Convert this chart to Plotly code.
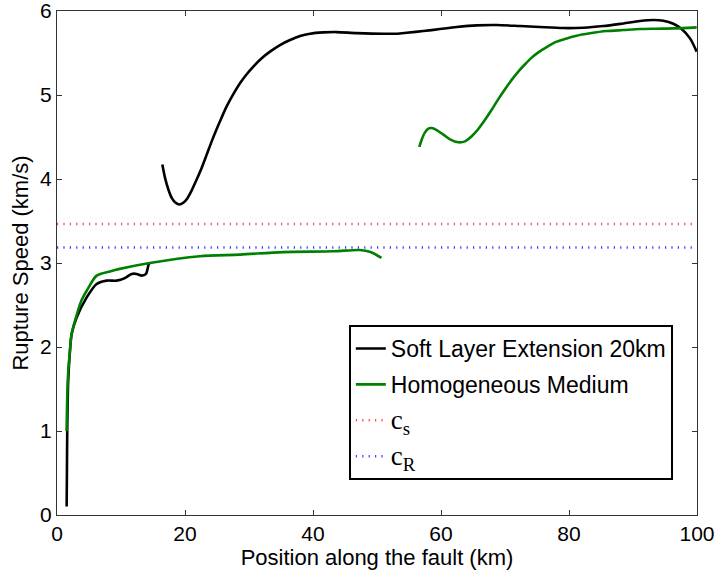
import plotly.graph_objects as go

# Soft layer extension 20 km (black), two segments
soft1_x = [1.51, 1.55, 1.6, 1.75, 2.03, 2.29, 3.07, 4.64, 6.2, 7.76, 9.32, 10.6, 11.67, 12.45, 13.23, 13.9, 14.27, 14.43]
soft1_y = [0.1, 0.5, 1.0, 1.6, 1.96, 2.155, 2.35, 2.59, 2.75, 2.79, 2.79, 2.82, 2.87, 2.87, 2.85, 2.87, 2.97, 3.0]
soft2_x = [16.46, 16.88, 17.4, 17.92, 18.54, 19.11, 19.74, 20.36, 21.04, 21.82, 22.6, 23.39, 24.17, 24.95, 25.73,
           26.51, 27.55, 28.59, 29.64, 30.68, 31.98, 33.28, 34.84, 36.41, 37.97, 39.53, 41.61, 43.7, 46.82, 50.99,
           53.59, 54.64, 57.24, 59.84, 62.45, 65.57, 68.7, 72.34, 75.47, 79.11, 82.24, 85.36, 88.49, 91.09, 93.18,
           94.74, 96.3, 97.6, 98.91, 99.95]
soft2_y = [4.172, 4.013, 3.875, 3.776, 3.717, 3.697, 3.717, 3.768, 3.863, 3.994, 4.132, 4.29, 4.448, 4.595, 4.733,
           4.864, 5.01, 5.14, 5.247, 5.338, 5.437, 5.516, 5.595, 5.654, 5.702, 5.73, 5.745, 5.749, 5.737, 5.729,
           5.733, 5.741, 5.761, 5.785, 5.809, 5.829, 5.833, 5.821, 5.809, 5.797, 5.801, 5.821, 5.852, 5.88, 5.892,
           5.884, 5.848, 5.785, 5.674, 5.516]

# Homogeneous medium (green), two segments
homo1_x = [1.5, 1.6, 1.75, 2.03, 2.29, 3.07, 3.8, 4.64, 6.2, 8.28, 9.8, 14.5, 22.3, 28.6, 35.3, 43.2, 47.3, 49.0, 50.7]
homo1_y = [1.0, 1.4, 1.7, 1.96, 2.16, 2.38, 2.55, 2.67, 2.85, 2.9, 2.93, 3.0, 3.08, 3.10, 3.13, 3.14, 3.155, 3.13, 3.06]
homo2_x = [56.61, 56.98, 57.5, 58.02, 58.54, 59.32, 60.36, 61.41, 62.71, 63.75, 64.79, 65.83, 66.88, 67.92, 68.96,
           70.0, 71.04, 72.08, 73.13, 74.17, 75.21, 76.51, 78.07, 79.64, 81.2, 83.28, 85.89, 88.49, 91.09, 93.7,
           96.3, 99.95]
homo2_y = [4.381, 4.468, 4.555, 4.599, 4.607, 4.583, 4.528, 4.472, 4.437, 4.448, 4.508, 4.595, 4.705, 4.824, 4.951,
           5.069, 5.18, 5.279, 5.366, 5.445, 5.508, 5.571, 5.635, 5.674, 5.706, 5.734, 5.761, 5.773, 5.785, 5.789,
           5.793, 5.805]

# Reference wave speeds
cs = 3.464
cR = 3.184
x_range = [0, 100]

FONT = "Liberation Sans, Arial, sans-serif"

fig = go.Figure()
black = dict(color="black", width=2.6, shape="spline", smoothing=0.8)
green = dict(color="rgb(0,128,0)", width=2.6, shape="spline", smoothing=0.8)

fig.add_trace(go.Scatter(x=soft1_x, y=soft1_y, mode="lines", line=black,
                         name="Soft Layer Extension 20km", legendgroup="a"))
fig.add_trace(go.Scatter(x=soft2_x, y=soft2_y, mode="lines", line=black,
                         showlegend=False, legendgroup="a"))
fig.add_trace(go.Scatter(x=homo1_x, y=homo1_y, mode="lines", line=green,
                         name="Homogeneous Medium", legendgroup="b"))
fig.add_trace(go.Scatter(x=homo2_x, y=homo2_y, mode="lines", line=green,
                         showlegend=False, legendgroup="b"))
fig.add_trace(go.Scatter(x=x_range, y=[cs, cs], mode="lines",
                         line=dict(color="rgb(255,70,70)", width=2.5, dash="1.2px,5.2px"),
                         name='<span style="font-family:Liberation Serif;font-size:27px">c<sub>s</sub></span>',
                         legendgroup="c"))
fig.add_trace(go.Scatter(x=x_range, y=[cR, cR], mode="lines",
                         line=dict(color="rgb(60,60,255)", width=2.5, dash="1.2px,5.2px"),
                         name='<span style="font-family:Liberation Serif;font-size:27px">c<sub>R</sub></span>',
                         legendgroup="d"))

axis_common = dict(showline=True, linecolor="#333", linewidth=1.2, mirror="ticks",
                   ticks="inside", ticklen=5, tickcolor="#333", showgrid=False, zeroline=False,
                   automargin=False, ticklabeloverflow="allow",
                   tickfont=dict(family=FONT, size=21, color="black"))

fig.update_layout(
    width=719, height=571,
    margin=dict(l=57, r=22, t=11, b=56),
    paper_bgcolor="white", plot_bgcolor="white",
    xaxis=dict(range=[0, 100], tickvals=[0, 20, 40, 60, 80, 100],
               title=dict(text="Position along the fault (km)", standoff=2,
                          font=dict(family=FONT, size=22, color="black")),
               **axis_common),
    yaxis=dict(range=[0, 6], tickvals=[0, 1, 2, 3, 4, 5, 6],
               title=dict(text="Rupture Speed (km/s)", standoff=5,
                          font=dict(family=FONT, size=22, color="black")),
               **axis_common),
    legend=dict(x=0.456, y=0.377, xanchor="left", yanchor="top",
                bordercolor="black", borderwidth=2, bgcolor="white",
                font=dict(family=FONT, size=23, color="black"),
                tracegroupgap=3, traceorder="grouped"),
    showlegend=True,
)

fig.write_html("out.html")
